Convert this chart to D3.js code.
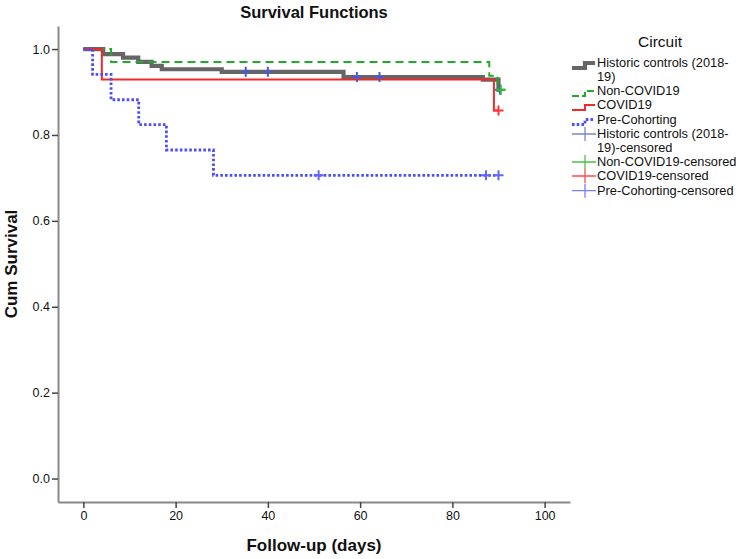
<!DOCTYPE html>
<html>
<head>
<meta charset="utf-8">
<script src="https://cdn.jsdelivr.net/npm/d3@7"></script>
<style>
  html, body { margin: 0; padding: 0; background: #fff; }
  svg { display: block; }
  text { font-family: "Liberation Sans", Arial, sans-serif; fill: #111; }
</style>
</head>
<body>
<script>
// ---- data ----
const seriesNames = ["Historic controls (2018-19)", "Non-COVID19", "COVID19", "Pre-Cohorting"];
const historicTimes = [0, 4.3, 8.6, 11.9, 14.8, 17, 30, 56.4, 86.6, 90, 90.5];
const historicSurv  = [1, 0.988, 0.980, 0.970, 0.961, 0.953, 0.947, 0.935, 0.929, 0.905, 0.905];
const nonCovidTimes = [0, 6, 88, 89.8, 90.5];
const nonCovidSurv  = [1, 0.970, 0.938, 0.905, 0.905];
const covidTimes    = [0, 4, 89, 90];
const covidSurv     = [1, 0.929, 0.857, 0.857];
const preTimes      = [0, 2, 6, 12, 18, 28.2, 90];
const preSurv       = [1, 0.941, 0.882, 0.824, 0.765, 0.706, 0.706];

const historicCensorTimes = [35.2, 40, 59.3, 64.2, 90.3];
const historicCensorSurv  = [0.947, 0.947, 0.935, 0.935, 0.905];
const nonCovidCensorTimes = [90.5];
const nonCovidCensorSurv  = [0.905];
const covidCensorTimes    = [90];
const covidCensorSurv     = [0.857];
const preCensorTimes      = [51, 87.3, 90];
const preCensorSurv       = [0.706, 0.706, 0.706];

const xTicks = [0, 20, 40, 60, 80, 100];
const yTicks = [0, 0.2, 0.4, 0.6, 0.8, 1.0];
const legendLabels = [
  ["Historic controls (2018-", "19)"],
  ["Non-COVID19"],
  ["COVID19"],
  ["Pre-Cohorting"],
  ["Historic controls (2018-", "19)-censored"],
  ["Non-COVID19-censored"],
  ["COVID19-censored"],
  ["Pre-Cohorting-censored"]
];

// ---- styles ----
const lineStyles = [
  {color: "#666666", width: 4.2, dash: null},
  {color: "#22aa2a", width: 2, dash: "8,5"},
  {color: "#ee2a2a", width: 2, dash: null},
  {color: "#4e4ef5", width: 2.8, dash: "2.6,2.1"}
];
const censorColors = ["#4a5cc8", "#2fb83a", "#ff3535", "#6464ff"];
const legendCensorColors = ["#7a88cc", "#4cc04c", "#ff4b4b", "#7b7bff"];

const W = 749, H = 559;
const svg = d3.select("body").append("svg").attr("width", W).attr("height", H);

const mLeft = 58, mRight = 570, mTop = 26, mBottom = 502;
const x = d3.scaleLinear().domain([-5.5, 105.5]).range([mLeft, mRight]);
const y = d3.scaleLinear().domain([-0.0546, 1.0537]).range([mBottom, mTop]);

// axes
const axisColor = "#8a8a8a";
const yAxis = svg.append("g").attr("transform", `translate(${mLeft},0)`)
  .call(d3.axisLeft(y).tickValues(yTicks).tickFormat(d3.format(".1f")).tickSize(6).tickSizeOuter(0).tickPadding(2));
const xAxis = svg.append("g").attr("transform", `translate(0,${mBottom})`)
  .call(d3.axisBottom(x).tickValues(xTicks).tickSize(6).tickSizeOuter(0).tickPadding(3));
[xAxis, yAxis].forEach(g => {
  g.select(".domain").attr("stroke", axisColor).attr("stroke-width", 2);
  g.selectAll(".tick line").attr("stroke", "#444").attr("stroke-width", 1.5);
  g.selectAll(".tick text").attr("font-size", 12.5).attr("fill", "#111")
    .attr("font-family", "'Liberation Sans', Arial, sans-serif");
});

// curves
const allSeries = [
  [historicTimes, historicSurv],
  [nonCovidTimes, nonCovidSurv],
  [covidTimes, covidSurv],
  [preTimes, preSurv]
];
const line = d3.line().x(d => x(d[0])).y(d => y(d[1])).curve(d3.curveStepAfter);
const plot = svg.append("g");
allSeries.forEach((s, i) => {
  const pts = s[0].map((t, k) => [t, s[1][k]]);
  const st = lineStyles[i];
  plot.append("path").datum(pts).attr("d", line)
    .attr("fill", "none").attr("stroke", st.color).attr("stroke-width", st.width)
    .attr("stroke-dasharray", st.dash).attr("stroke-linejoin", "miter").attr("stroke-linecap", "butt");
});

// censor marks
const censors = [
  [historicCensorTimes, historicCensorSurv],
  [nonCovidCensorTimes, nonCovidCensorSurv],
  [covidCensorTimes, covidCensorSurv],
  [preCensorTimes, preCensorSurv]
];
censors.forEach((c, i) => {
  c[0].forEach((t, k) => {
    const cx = x(t), cy = y(c[1][k]);
    plot.append("path")
      .attr("d", `M${cx - 5},${cy}H${cx + 5}M${cx},${cy - 5}V${cy + 5}`)
      .attr("stroke", censorColors[i]).attr("stroke-width", 2).attr("fill", "none");
  });
});

// title & axis labels
svg.append("text").attr("x", (mLeft + mRight) / 2).attr("y", 18).attr("text-anchor", "middle")
  .attr("font-size", 16.5).attr("font-weight", "bold").text("Survival Functions");
svg.append("text").attr("x", (mLeft + mRight) / 2).attr("y", 551).attr("text-anchor", "middle")
  .attr("font-size", 17).attr("font-weight", "bold").text("Follow-up (days)");
svg.append("text").attr("transform", `translate(17,${(mTop + mBottom) / 2}) rotate(-90)`)
  .attr("text-anchor", "middle").attr("font-size", 17).attr("font-weight", "bold").text("Cum Survival");

// legend
const lg = svg.append("g");
lg.append("text").attr("x", 660).attr("y", 47).attr("text-anchor", "middle").attr("font-size", 15.5).text("Circuit");
const rowY = [63, 91, 105, 119.5, 134, 162, 176, 190.7];
const sx0 = 572, sx1 = 595;
legendLabels.forEach((lines, i) => {
  const cy = rowY[i];
  if (i < 4) {
    const st = lineStyles[i];
    lg.append("path")
      .attr("d", `M${sx0},${cy + 5}H${sx0 + 13}V${cy}H${sx1}`)
      .attr("fill", "none").attr("stroke", st.color).attr("stroke-width", st.width)
      .attr("stroke-dasharray", i === 1 ? "7,3" : st.dash);
  } else {
    const cx = 585;
    lg.append("path")
      .attr("d", `M${sx0},${cy}H${sx1 + 1}M${cx},${cy - 7}V${cy + 7}`)
      .attr("stroke", legendCensorColors[i - 4]).attr("stroke-width", 1.3).attr("fill", "none");
  }
  lines.forEach((l, j) => {
    lg.append("text").attr("x", 597).attr("y", cy + 4.4 + j * 13.8).attr("font-size", 12.8).text(l);
  });
});
</script>
</body>
</html>
